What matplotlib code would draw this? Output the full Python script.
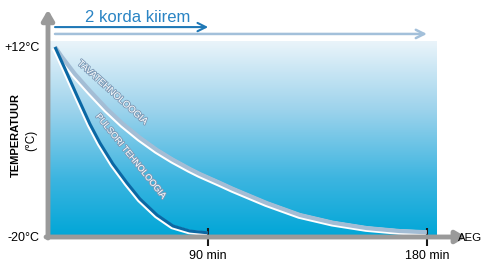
import numpy as np
import matplotlib
matplotlib.use('Agg')
import matplotlib.pyplot as plt
import matplotlib.patheffects as pe
from matplotlib.colors import LinearSegmentedColormap

plt.rcParams['font.family'] = ['Liberation Sans', 'DejaVu Sans']

# data (minutes, degrees C)
pulsor_min = [0, 10.7, 20.5, 28.4, 34.6, 42.1, 49.9, 56.8, 65.5, 73.4, 81.5, 90]
pulsor_temp = [12, 8.3, 3.4, -1.0, -4.2, -7.7, -10.9, -13.6, -16.3, -18.15, -19.0, -19.3]
tava_min = [0, 8.1, 18.3, 28.4, 38.7, 47.7, 56.8, 65.5, 73.4, 81.5, 86.2, 95.4,
            101.2, 116.0, 129.9, 143.4, 156.9, 169.7, 180]
tava_temp = [12, 10.3, 7.45, 4.6, 1.55, -0.97, -3.3, -5.35, -7.0, -8.55, -9.4, -10.9,
             -11.9, -14.3, -16.3, -17.6, -18.5, -19.0, -19.2]
x_ticks = [90, 180]
x_labels = ['90 min', '180 min']
y_ticks = [12, -20]
y_labels = ['+12°C', '-20°C']

fig = plt.figure(figsize=(4.82, 2.64), dpi=100)
ax = fig.add_axes([48/482, 1-237/264, 389/482, 196/264])

# x axis is an illustration, not linear: power scale
p = 1.28
ax.set_xscale('function', functions=(lambda x: np.sign(x)*np.abs(x)**p,
                                     lambda x: np.sign(x)*np.abs(x)**(1/p)))

# gradient background
cmap = LinearSegmentedColormap.from_list('bg', [(0, '#00a6d7'), (0.3, '#3db5e0'),
                                                (0.65, '#9dd3ec'), (1, '#eaf4fa')])
grad = np.linspace(0, 1, 256).reshape(-1, 1)
ax.imshow(grad, cmap=cmap, origin='lower', aspect='auto', extent=(0, 1, 0, 1),
          transform=ax.transAxes, zorder=0)

halo = lambda w: [pe.Stroke(linewidth=w+1.0, foreground='white', offset=(-0.7, -0.7)), pe.Normal()]
ax.plot(tava_min, tava_temp, color='#a3bdd5', lw=3.0, solid_capstyle='butt',
        solid_joinstyle='round', path_effects=halo(3.0), zorder=3)
ax.plot(pulsor_min, pulsor_temp, color='#0b68a4', lw=2.2, solid_capstyle='butt',
        solid_joinstyle='round', path_effects=halo(2.2), zorder=4)

lab_fx = [pe.withStroke(linewidth=1.3, foreground='#7f9cb8')]
ax.text(42, 4.3, 'TAVATEHNOLOOGIA', rotation=-42, rotation_mode='anchor',
        ha='center', va='center', fontsize=6.8, color='white', path_effects=lab_fx, zorder=5)
ax.text(52, -6.4, 'PULSORI TEHNOLOOGIA', rotation=-51, rotation_mode='anchor',
        ha='center', va='center', fontsize=6.4, color='white', path_effects=lab_fx, zorder=5)

ax.set_xlim(-8.08, 183.8)
ax.set_ylim(-20, 13.01)

for s in ['top', 'right', 'bottom', 'left']:
    ax.spines[s].set_visible(False)

ax.set_xticks(x_ticks)
ax.set_xticklabels(x_labels, fontsize=9)
ax.tick_params(axis='x', direction='inout', length=13, width=1.5, color='#1a1a1a', pad=3)
ax.set_yticks(y_ticks)
ax.set_yticklabels(y_labels, fontsize=9)
ax.tick_params(axis='y', length=0, pad=6)

# gray axis arrows
gray = '#9a9a9a'
ax.annotate('', xy=(0, 1.16), xytext=(0, -0.005), xycoords='axes fraction',
            arrowprops=dict(arrowstyle='-|>,head_width=0.35,head_length=0.6', lw=3.5,
                            color=gray, shrinkA=0, shrinkB=0), annotation_clip=False, zorder=6)
ax.annotate('', xy=(1.075, 0), xytext=(-0.005, 0), xycoords='axes fraction',
            arrowprops=dict(arrowstyle='-|>,head_width=0.35,head_length=0.6', lw=3.5,
                            color=gray, shrinkA=0, shrinkB=0), annotation_clip=False, zorder=6)
fig.text(458/482, 1-238/264, 'AEG', fontsize=8.2, ha='left', va='center')

# top arrows: 90 vs 180 min
tr = ax.get_xaxis_transform()
ax.annotate('', xy=(90, 1.071), xytext=(0, 1.071), xycoords=tr,
            arrowprops=dict(arrowstyle='->,head_width=0.3,head_length=0.6', lw=1.5,
                            color='#1f78b6', shrinkA=0, shrinkB=0), annotation_clip=False)
ax.annotate('', xy=(180, 1.036), xytext=(0, 1.036), xycoords=tr,
            arrowprops=dict(arrowstyle='->,head_width=0.3,head_length=0.6', lw=1.8,
                            color='#a3c0da', shrinkA=0, shrinkB=0), annotation_clip=False)
ax.text(0.231, 1.122, '2 korda kiirem', transform=ax.transAxes, fontsize=12,
        color='#2a84c4', ha='center', va='center')

fig.text(16/482, 1-135/264, 'TEMPERATUUR', rotation=90, fontsize=8, fontweight='bold',
         ha='center', va='center')
fig.text(31/482, 1-140/264, '(°C)', rotation=90, fontsize=8.5, ha='center', va='center')

fig.savefig('out.png', dpi=100)
